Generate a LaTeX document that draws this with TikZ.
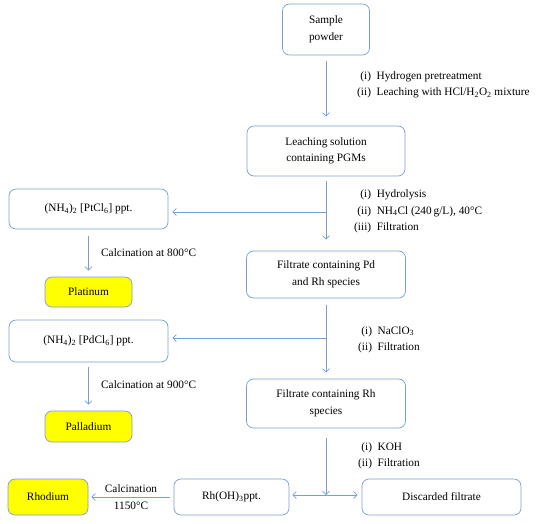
\documentclass[tikz,border=0pt]{standalone}
\usepackage{fontspec}
\setmainfont{Liberation Serif}
\usetikzlibrary{positioning,arrows.meta}
\definecolor{flow}{RGB}{120,158,210}
\definecolor{metal}{RGB}{255,255,0}
\tikzset{%
  stage/.style={draw=flow, line width=0.7pt, rounded corners=7pt, align=center, inner sep=0pt},% process box
  product/.style={stage, fill=metal},% recovered metal
  flowline/.style={draw=flow, line width=0.7pt, -{Straight Barb[length=3.5pt,width=7pt]}},% process step
  steps/.style={anchor=west, inner sep=0pt},% list of operations
  note/.style={anchor=west, inner sep=0pt}% calcination note
}
\newcommand*{\steplist}[1]{\begin{tabular}{@{}r@{\ \ }l@{}}#1\end{tabular}}
\begin{document}
\begin{tikzpicture}[x=1pt, y=-1pt, font=\fontsize{11.3}{16.5}\selectfont]
\useasboundingbox (0,0) rectangle (545,523);

% main column
\node[stage, minimum width=87pt, minimum height=51pt] (sample) at (326, 29.5) {Sample\\powder};
\node[stage, minimum width=158pt, minimum height=50pt] (leach) at (326, 151) {Leaching solution\\containing PGMs};
\node[stage, minimum width=159pt, minimum height=47pt] (pdrh) at (326, 274.5) {Filtrate containing Pd\\and Rh species};
\node[stage, minimum width=159pt, minimum height=49pt] (rhfil) at (326, 403.5) {Filtrate containing Rh\\species};

% left column
\node[stage, minimum width=159pt, minimum height=40pt] (ptsalt) at (88.5, 209) {(NH\textsubscript{4})\textsubscript{2} [PtCl\textsubscript{6}] ppt.};
\node[product, minimum width=87pt, minimum height=30pt] (pt) at (88.5, 292) {Platinum};
\node[stage, minimum width=159pt, minimum height=42pt] (pdsalt) at (88.5, 341) {(NH\textsubscript{4})\textsubscript{2} [PdCl\textsubscript{6}] ppt.};
\node[product, minimum width=87pt, minimum height=31pt] (pd) at (88.5, 426.5) {Palladium};

% bottom row
\node[stage, minimum width=115pt, minimum height=36pt] (rhoh) at (231.5, 497) {Rh(OH)\textsubscript{3}ppt.};
\node[stage, minimum width=159pt, minimum height=36pt] (waste) at (441.5, 497) {Discarded filtrate};
\node[product, minimum width=80pt, minimum height=36pt] (rh) at (48, 497) {Rhodium};

% branch points
\coordinate (j1) at (326, 212);
\coordinate (j2) at (326, 338);
\coordinate (j3) at (326, 495);

% connectors
\draw[flowline, shorten <=6pt, shorten >=9pt] (sample) -- (leach);
\draw[flowline, shorten <=5pt, shorten >=11pt] (leach) -- (pdrh);
\draw[flowline, shorten >=4pt] (j1) -- (ptsalt.east |- j1);
\draw[flowline, shorten <=7pt, shorten >=6pt] (ptsalt) -- (pt);
\draw[flowline, shorten <=7pt, shorten >=6pt] (pdrh) -- (rhfil);
\draw[flowline, shorten >=4pt] (j2) -- (pdsalt.east |- j2);
\draw[flowline, shorten <=5pt, shorten >=6pt] (pdsalt) -- (pd);
\draw[flowline, shorten <=10pt] (rhfil) -- (j3);
\draw[flowline, shorten >=3pt] (j3) -- (rhoh.east |- j3);
\draw[flowline, shorten >=4pt] (j3) -- (waste.west |- j3);
\draw[flowline, shorten <=4pt, shorten >=3pt] (rhoh) -- (rh);

% operations
\node[steps] (s1) at (357, 84) {\steplist{(i)&Hydrogen pretreatment\\(ii)&Leaching with HCl/H\textsubscript{2}O\textsubscript{2} mixture}};
\node[steps] (s2) at (354, 211) {\steplist{(i)&Hydrolysis\\(ii)&NH\textsubscript{4}Cl (240\,g/L), 40°C\\(iii)&Filtration}};
\node[steps] (s3) at (358, 339) {\steplist{(i)&NaClO\textsubscript{3}\\(ii)&Filtration}};
\node[steps] (s4) at (358, 455) {\steplist{(i)&KOH\\(ii)&Filtration}};
\node[note] (c1) at (101, 253) {Calcination at 800°C};
\node[note] (c2) at (101, 385) {Calcination at 900°C};
\node[align=center, inner sep=0pt] (c3) at (131, 497) {Calcination\\1150°C};
\end{tikzpicture}
\end{document}
